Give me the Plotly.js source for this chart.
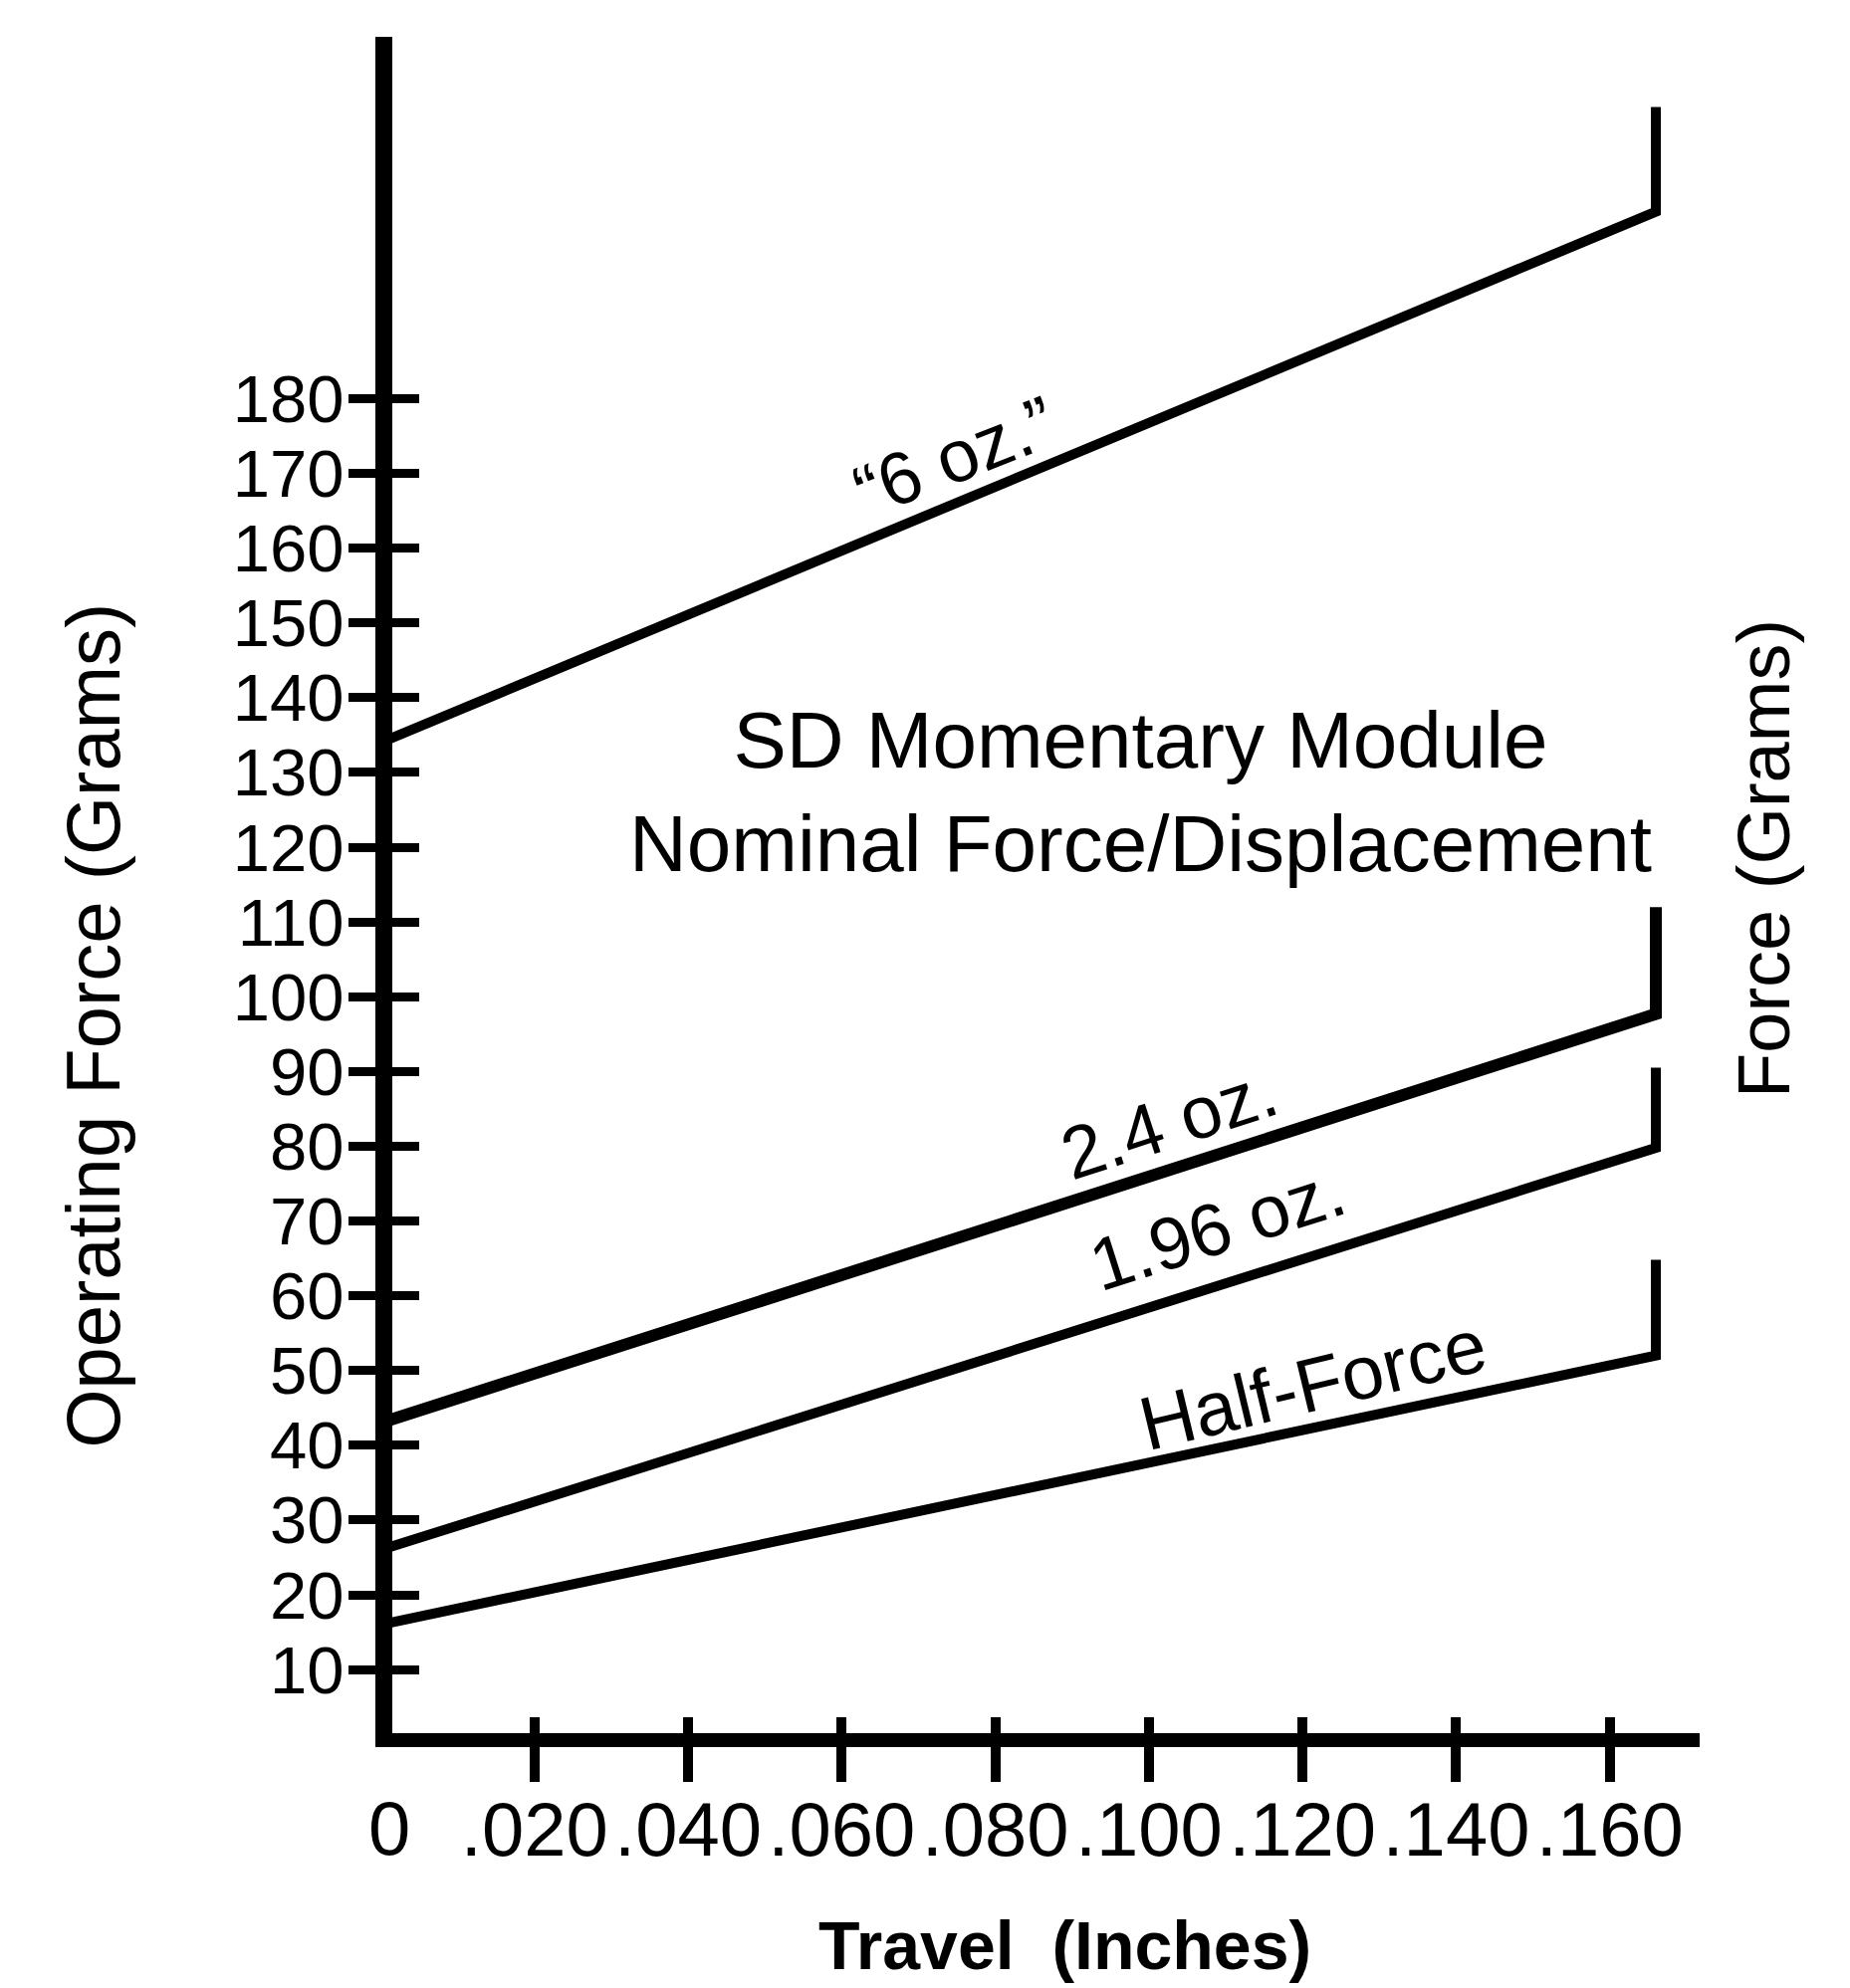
<!DOCTYPE html>
<html>
<head>
<meta charset="utf-8">
<script src="https://cdn.plot.ly/plotly-3.0.1.min.js"></script>
<style>
  html, body { margin: 0; padding: 0; background: #ffffff; }
  #chart { width: 1858px; height: 1997px; }
</style>
</head>
<body>
<div id="chart"></div>
<script>
// ---------------- data ----------------
const seriesNames = ['\u201C6 oz.\u201D', '2.4 oz.', '1.96 oz.', 'Half-Force'];
const travel6oz = [0, 0.166, 0.166];
const force6oz = [134, 205, 219];
const travel24oz = [0, 0.166, 0.166];
const force24oz = [43, 97.7, 112];
const travel196oz = [0, 0.166, 0.166];
const force196oz = [26, 79.8, 90.5];
const travelHalf = [0, 0.166, 0.166];
const forceHalf = [16, 52, 64.8];

const xTickVals = [0, 0.02, 0.04, 0.06, 0.08, 0.10, 0.12, 0.14, 0.16];
const xTickText = ['0', '.020', '.040', '.060', '.080', '.100', '.120', '.140', '.160'];
const yTickVals = [10, 20, 30, 40, 50, 60, 70, 80, 90, 100, 110, 120, 130, 140, 150, 160, 170, 180];
const yTickText = yTickVals.map(String);

const chartTitle = 'SD Momentary Module<br>Nominal Force/Displacement';
const xTitle = 'Travel  (Inches)';
const yTitle = 'Operating Force (Grams)';
const y2Title = 'Force (Grams)';

// ---------------- layout geometry ----------------
const FONT = 'Liberation Sans, Arial, Helvetica, sans-serif';
const W = 1858, H = 1997;
const L = 393.5, R = 1707, T = 37, B = 1741;
const PW = R - L, PH = B - T;
const xRange = [0.0015, 0.1717];
const yRange = [1.5, 228.4];
function px(x) { return (x - L) / PW; }
function py(y) { return (B - y) / PH; }

const lineStyle = (w) => ({ color: '#000', width: w, shape: 'linear' });
const traces = [
  { x: travel6oz, y: force6oz, name: seriesNames[0], mode: 'lines', line: lineStyle(10) },
  { x: travel24oz, y: force24oz, name: seriesNames[1], mode: 'lines', line: lineStyle(12) },
  { x: travel196oz, y: force196oz, name: seriesNames[2], mode: 'lines', line: lineStyle(10) },
  { x: travelHalf, y: forceHalf, name: seriesNames[3], mode: 'lines', line: lineStyle(10) },
  // invisible trace to activate overlay axes (inner halves of ticks)
  { x: [xRange[0]], y: [yRange[0]], xaxis: 'x2', yaxis: 'y2', mode: 'markers',
    marker: { opacity: 0 }, hoverinfo: 'skip', showlegend: false }
];

function ann(text, x, y, size, angle, bold) {
  return {
    text: bold ? '<b>' + text + '</b>' : text,
    xref: 'paper', yref: 'paper', x: px(x), y: py(y),
    xanchor: 'center', yanchor: 'middle',
    showarrow: false, textangle: angle || 0,
    font: { family: FONT, size: size, color: '#000' }
  };
}

// x tick values inside the visible range get axis labels; the origin label
// (which sits under the corner of the axes) is written as text below it.
const xInRange = xTickVals.filter(v => v >= xRange[0]);
const xInText = xTickText.filter((t, i) => xTickVals[i] >= xRange[0]);

const layout = {
  width: W, height: H,
  paper_bgcolor: '#fff', plot_bgcolor: '#fff',
  showlegend: false,
  margin: { l: L, r: W - R, t: T, b: H - B, pad: 0 },
  font: { family: FONT, color: '#000' },
  xaxis: {
    range: xRange, showgrid: false, zeroline: false,
    showline: true, linewidth: 14, linecolor: '#000',
    tickmode: 'array', tickvals: xInRange, ticktext: xInText,
    ticks: 'outside', ticklen: 35, tickwidth: 10, tickcolor: '#000',
    tickfont: { family: FONT, size: 76, color: '#000' },
    ticklabelstandoff: -17
  },
  yaxis: {
    range: yRange, showgrid: false, zeroline: false,
    showline: true, linewidth: 17, linecolor: '#000',
    tickmode: 'array', tickvals: yTickVals, ticktext: yTickText,
    ticks: 'outside', ticklen: 27, tickwidth: 9, tickcolor: '#000',
    tickfont: { family: FONT, size: 67, color: '#000' },
    ticklabelstandoff: -9
  },
  xaxis2: {
    overlaying: 'x', anchor: 'y', range: xRange, showgrid: false, zeroline: false,
    showline: false, tickmode: 'array', tickvals: xInRange,
    ticks: 'inside', ticklen: 16, tickwidth: 10, tickcolor: '#000',
    showticklabels: false
  },
  yaxis2: {
    overlaying: 'y', anchor: 'x', side: 'left', range: yRange, showgrid: false, zeroline: false,
    showline: false, tickmode: 'array', tickvals: yTickVals,
    ticks: 'inside', ticklen: 27, tickwidth: 9, tickcolor: '#000',
    showticklabels: false
  },
  annotations: [
    ann(xTickText[0], 390, 1836, 76, 0),
    ann(chartTitle, 1145, 795, 80, 0),
    ann(seriesNames[0], 959, 458, 74, -21.5),
    ann(seriesNames[1], 1174, 1127, 74, -18),
    ann(seriesNames[2], 1222, 1233, 74, -17.7),
    ann(seriesNames[3], 1318, 1390, 76, -13.5),
    ann(yTitle, 92, 1030, 76, -90),
    ann(y2Title, 1772, 862, 74, -90),
    ann(xTitle, 1069, 1954, 68, 0, true)
  ]
};

Plotly.newPlot('chart', traces, layout, { staticPlot: true, displayModeBar: false });
</script>
</body>
</html>
